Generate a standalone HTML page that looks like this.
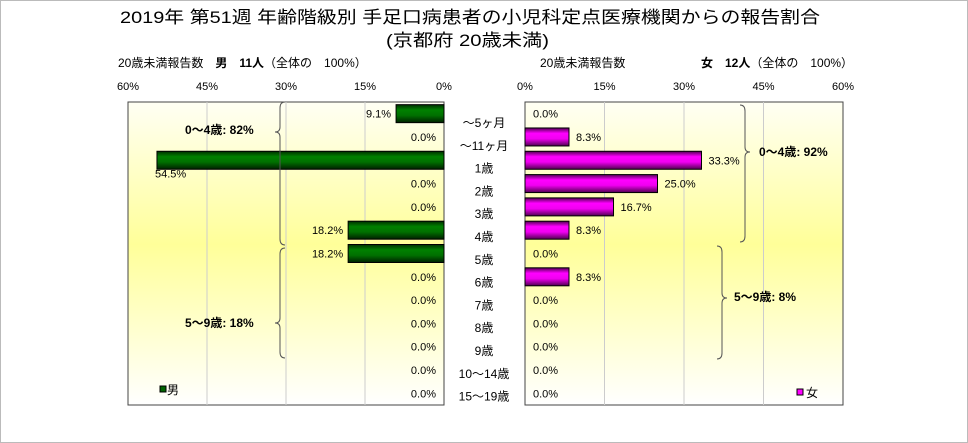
<!DOCTYPE html>
<html><head><meta charset="utf-8">
<style>
html,body{margin:0;padding:0;background:#fff;}
body{width:968px;height:443px;position:relative;overflow:hidden;font-family:"Liberation Sans","Noto Sans CJK JP",sans-serif;}
#frame{position:absolute;left:0;top:0;width:966px;height:441px;border:1px solid #bbb;}
</style></head>
<body>
<div id="frame"></div>
<svg id="chart" width="968" height="443" style="position:absolute;left:0;top:0">
<defs>
<linearGradient id="bg" x1="0" y1="0" x2="0" y2="1">
<stop offset="0" stop-color="#fffff4"/><stop offset="0.47" stop-color="#ffff99"/><stop offset="1" stop-color="#ffffff"/>
</linearGradient>
<linearGradient id="gG" x1="0" y1="0" x2="0" y2="1">
<stop offset="0" stop-color="#003000"/><stop offset="0.3" stop-color="#008000"/><stop offset="0.6" stop-color="#007000"/><stop offset="1" stop-color="#002000"/>
</linearGradient>
<linearGradient id="gM" x1="0" y1="0" x2="0" y2="1">
<stop offset="0" stop-color="#500050"/><stop offset="0.3" stop-color="#ff00ff"/><stop offset="0.6" stop-color="#f000f0"/><stop offset="1" stop-color="#500050"/>
</linearGradient>
</defs>
<text x="120" y="23" font-size="17" textLength="700" lengthAdjust="spacingAndGlyphs">2019年 第51週 年齢階級別 手足口病患者の小児科定点医療機関からの報告割合</text>
<text x="386" y="46" font-size="17" textLength="163" lengthAdjust="spacingAndGlyphs">(京都府 20歳未満)</text>
<text x="118" y="67" font-size="12">20歳未満報告数　<tspan font-weight="bold">男　11人</tspan>（全体の　100%）</text>
<text x="540" y="67" font-size="12">20歳未満報告数</text>
<text x="701" y="67" font-size="12"><tspan font-weight="bold">女　12人</tspan>（全体の　100%）</text>
<g id="plots"></g>
</svg>
<script>
const categories=["～5ヶ月","～11ヶ月","1歳","2歳","3歳","4歳","5歳","6歳","7歳","8歳","9歳","10～14歳","15～19歳"];
const maleValues=[9.1,0,54.5,0,0,18.2,18.2,0,0,0,0,0,0];
const femaleValues=[0,8.3,33.3,25.0,16.7,8.3,0,8.3,0,0,0,0,0];
const tickValues=[0,15,30,45,60];
const tickLabels=["0%","15%","30%","45%","60%"];

const NS="http://www.w3.org/2000/svg";
const g=document.getElementById('plots');
const top0=102,bot0=405,rowH=(bot0-top0)/categories.length,barH=18;
const L={x0:444,x1:128},R={x0:525,x1:843};
const pxPer=(L.x0-L.x1)/60;
function xL(v){return L.x0-v*pxPer;}
function xR(v){return R.x0+v*(R.x1-R.x0)/60;}
function yRow(i){return top0+i*rowH;}
function mk(tag,attrs,parent){const e=document.createElementNS(NS,tag);for(const k in attrs)e.setAttribute(k,attrs[k]);(parent||g).appendChild(e);return e;}

let bgL=mk('rect',{x:L.x1,y:top0,width:L.x0-L.x1,height:bot0-top0,fill:'url(#bg)',stroke:'#444'});


let bgR=mk('rect',{x:R.x0,y:top0,width:R.x1-R.x0,height:bot0-top0,fill:'url(#bg)',stroke:'#444'});



tickValues.forEach((v,i)=>{
  if(v>0&&v<60){
    let a=mk('line',{x1:xL(v),x2:xL(v),y1:top0,y2:bot0,stroke:'#ccc'});
    
    
    let b=mk('line',{x1:xR(v),x2:xR(v),y1:top0,y2:bot0,stroke:'#ccc'});
    
    
  }
  let t=mk('text',{x:xL(v),y:90,'text-anchor':'middle','font-size':11});t.textContent=tickLabels[i];
  
  
  let t2=mk('text',{x:xR(v),y:90,'text-anchor':'middle','font-size':11});t2.textContent=tickLabels[i];
  
  
});

categories.forEach((c,i)=>{
  const y=yRow(i),cy=y+rowH/2;
  let t=mk('text',{x:484,y:122+i*22.8+5,'text-anchor':'middle','font-size':12});t.textContent=c;
  
  
  const mv=maleValues[i],fv=femaleValues[i];
  if(mv>0){
    let b=mk('rect',{x:xL(mv),y:cy-barH/2,width:xL(0)-xL(mv),height:barH,fill:'url(#gG)',stroke:'#000'});
    
    
  }
  let ml;
  if(mv>45){ml=mk('text',{x:xL(mv)-2,y:cy+barH/2+8,'font-size':11});}
  else{ml=mk('text',{x:(mv>0?xL(mv)-5:436),y:cy+4,'text-anchor':'end','font-size':11});}
  ml.textContent=mv.toFixed(1)+'%';
  
  
  if(fv>0){
    let b=mk('rect',{x:xR(0),y:cy-barH/2,width:xR(fv)-xR(0),height:barH,fill:'url(#gM)',stroke:'#000'});
    
    
  }
  let fl=mk('text',{x:(fv>0?xR(fv)+7:533),y:cy+4,'font-size':11});
  fl.textContent=fv.toFixed(1)+'%';
  
  
});

function brace(x,y1,y2,m,dir){
  const w=5*dir;
  return `M${x+w},${y1} Q${x},${y1} ${x},${y1+6} L${x},${m-5} Q${x},${m} ${x-w},${m} Q${x},${m} ${x},${m+5} L${x},${y2-6} Q${x},${y2} ${x+w},${y2}`;
}
let b1=mk('path',{d:brace(280,102,245,132,1),fill:'none',stroke:'#555'});


let b2=mk('path',{d:brace(280,248,358,323,1),fill:'none',stroke:'#555'});


let b3=mk('path',{d:brace(745,105,242,152,-1),fill:'none',stroke:'#555'});


let b4=mk('path',{d:brace(722,246,359,298,-1),fill:'none',stroke:'#555'});


[[185,134,'0～4歳: 82%','male-0-4-summary'],[185,327,'5～9歳: 18%','male-5-9-summary'],[759,156,'0～4歳: 92%','female-0-4-summary'],[734,301,'5～9歳: 8%','female-5-9-summary']].forEach(s=>{
  let t=mk('text',{x:s[0],y:s[1],'font-size':12,'font-weight':'bold'});t.textContent=s[2];
  
  
});
let lg1=mk('rect',{x:160,y:386,width:6,height:6,fill:'#006400',stroke:'#000'});


let lt1=mk('text',{x:167,y:394,'font-size':12});lt1.textContent='男';


let lg2=mk('rect',{x:797,y:389,width:6,height:6,fill:'#ff00ff',stroke:'#000'});


let lt2=mk('text',{x:806,y:397,'font-size':12});lt2.textContent='女';


</script>
</body></html>
